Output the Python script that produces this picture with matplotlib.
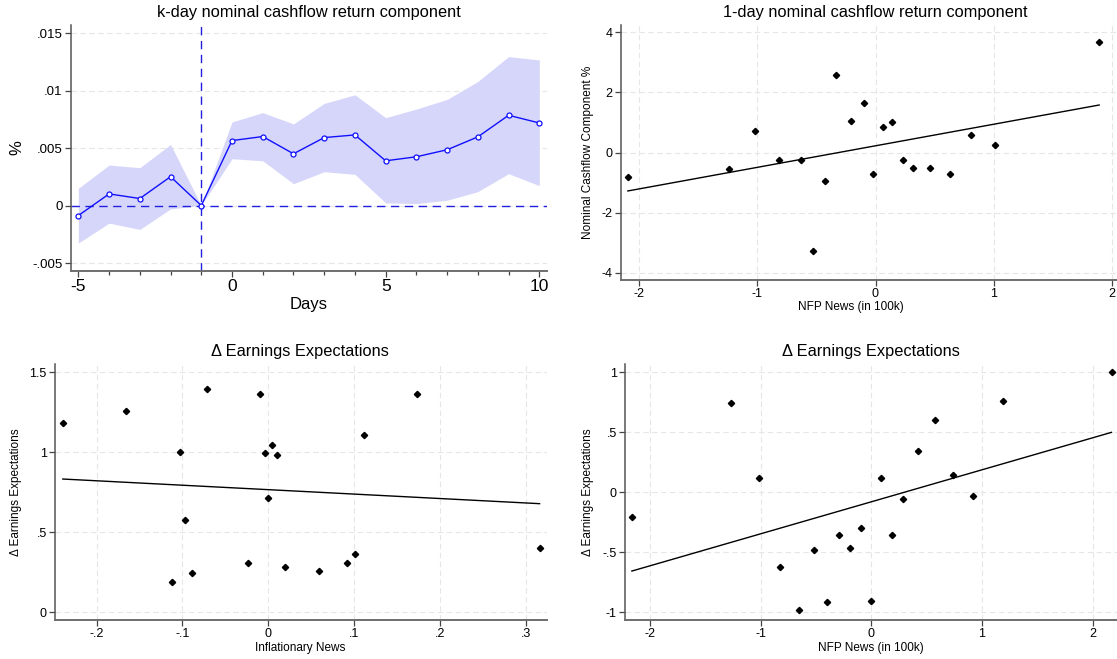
import numpy as np
import matplotlib
matplotlib.use("Agg")
import matplotlib.pyplot as plt
from matplotlib.ticker import FixedLocator, FuncFormatter, MultipleLocator

plt.rcParams['font.family'] = ['Liberation Sans', 'DejaVu Sans']

# ---------------- data ----------------
# Panel 1: k-day nominal cashflow return component
days = [-5, -4, -3, -2, -1, 0, 1, 2, 3, 4, 5, 6, 7, 8, 9, 10]
coef = [-0.00087, 0.00101, 0.00061, 0.00251, 0.0, 0.00565, 0.0060, 0.0045,
        0.00591, 0.00614, 0.00389, 0.00424, 0.00485, 0.00597, 0.00785, 0.00718]
ci_upper = [0.0015, 0.00352, 0.00329, 0.00531, 0.0, 0.00727, 0.00808, 0.0071,
            0.00888, 0.00963, 0.00764, 0.00839, 0.00923, 0.01079, 0.01295, 0.01266]
ci_lower = [-0.00326, -0.00153, -0.00208, -0.00029, 0.0, 0.00407, 0.00389, 0.0019,
            0.00294, 0.00271, 0.00023, 0.00017, 0.00046, 0.00121, 0.00277, 0.00173]

# Panel 2: 1-day nominal cashflow return component vs NFP news
nfp_news_1 = [-2.097, -1.243, -1.017, -0.814, -0.630, -0.528, -0.425, -0.338, -0.211, -0.100,
              -0.024, 0.060, 0.139, 0.229, 0.317, 0.465, 0.627, 0.811, 1.011, 1.894]
cashflow_1 = [-0.811, -0.556, 0.722, -0.244, -0.233, -3.267, -0.956, 2.578, 1.044, 1.644,
              -0.711, 0.844, 1.022, -0.256, -0.511, -0.522, -0.711, 0.589, 0.256, 3.678]
fit_1 = [0.7166, 0.223]   # slope, intercept of the fitted line

# Panel 3: Earnings expectations vs inflationary news
infl_news = [-0.2395, -0.1655, -0.1126, -0.1031, -0.0968, -0.0889, -0.0710, -0.0232, -0.0095, -0.0041,
             0.0001, 0.0047, 0.0101, 0.0196, 0.0592, 0.0920, 0.1008, 0.1116, 0.1736, 0.3162]
earn_infl = [1.185, 1.260, 0.1875, 1.000, 0.575, 0.246, 1.394, 0.310, 1.367, 0.994,
             0.7125, 1.044, 0.983, 0.281, 0.258, 0.308, 0.3625, 1.108, 1.365, 0.404]
fit_3 = [-0.2771, 0.7666]

# Panel 4: Earnings expectations vs NFP news
nfp_news_2 = [-2.164, -1.271, -1.011, -0.822, -0.652, -0.514, -0.401, -0.292, -0.189, -0.093,
              -0.003, 0.087, 0.183, 0.289, 0.421, 0.575, 0.742, 0.921, 1.191, 2.170]
earn_nfp = [-0.209, 0.748, 0.121, -0.620, -0.981, -0.478, -0.911, -0.354, -0.465, -0.295,
            -0.908, 0.121, -0.359, -0.057, 0.345, 0.606, 0.148, -0.032, 0.761, 1.006]
fit_4 = [0.2667, -0.0789]

# ---------------- layout ----------------
W, H = 1117, 659
fig = plt.figure(figsize=(W / 100, H / 100), dpi=100)
fig.patch.set_facecolor('white')


def px_axes(l, t, r, b):
    return fig.add_axes([l / W, 1 - b / H, (r - l) / W, (b - t) / H])


def stata_fmt(v, pos=None):
    s = ('%.4f' % v).rstrip('0').rstrip('.')
    if s in ('-0', ''):
        s = '0'
    s = s.replace('0.', '.', 1) if s.startswith('0.') else s
    s = s.replace('-0.', '-.', 1)
    return s


SPINE = '#6e6e6e'
GRID = '#e6e6e6'


def style(ax, xticks, yticks, xgrid=True, xsize=9, ysize=9):
    for s in ['top', 'right']:
        ax.spines[s].set_visible(False)
    ax.spines['left'].set_color('#555555')
    ax.spines['bottom'].set_color(SPINE)
    ax.spines['left'].set_linewidth(1.1)
    ax.spines['bottom'].set_linewidth(1.4)
    ax.xaxis.set_major_locator(FixedLocator(xticks))
    ax.yaxis.set_major_locator(FixedLocator(yticks))
    ax.xaxis.set_major_formatter(FuncFormatter(stata_fmt))
    ax.yaxis.set_major_formatter(FuncFormatter(stata_fmt))
    ax.tick_params(axis='x', length=4, width=0.9, color='#444444', labelsize=xsize, pad=2)
    ax.tick_params(axis='y', length=4, width=0.9, color='#444444', labelsize=ysize, pad=2)
    ax.grid(axis='y', color=GRID, linestyle=(0, (5, 3)), linewidth=0.8)
    if xgrid:
        ax.grid(axis='x', color=GRID, linestyle=(0, (5, 3)), linewidth=0.8)
    ax.set_axisbelow(True)


def scatter_fit(ax, x, y, fit):
    x = np.asarray(x)
    xx = np.array([x.min(), x.max()])
    ax.plot(xx, np.polyval(fit, xx), color='black', linewidth=1.0, zorder=2)
    ax.plot(x, y, linestyle='none', marker='D', markersize=3.2, color='black', zorder=3)


# ---- Panel 1 ----
ax1 = px_axes(71, 25, 546.7, 270.5)
ax1.fill_between(days, ci_lower, ci_upper, color='#d6d6fa', linewidth=0, zorder=1)
ax1.axhline(0, color='#2020e0', linestyle=(0, (6, 4)), linewidth=1.0, zorder=2)
ax1.axvline(-1, color='#2020e0', linestyle=(0, (6, 4)), linewidth=1.0, zorder=2)
ax1.plot(days, coef, color='#1010ff', linewidth=1.0, marker='o', markersize=3.6,
         markerfacecolor='white', markeredgecolor='#1010ff', markeredgewidth=0.9, zorder=3)
ax1.set_xlim(-5.24, 10.24)
ax1.set_ylim(-0.00565, 0.0157)
style(ax1, [-5, 0, 5, 10], [-0.005, 0, 0.005, 0.01, 0.015], xgrid=False, xsize=12.5, ysize=9.5)
ax1.xaxis.set_minor_locator(MultipleLocator(1))
ax1.tick_params(axis='x', which='minor', length=3, width=0.9, color='#444444')
fig.text(309 / W, 1 - 12.7 / H, 'k-day nominal cashflow return component', ha='center', va='center', fontsize=11.8)
fig.text(309 / W, 1 - 305 / H, 'Days', ha='center', va='center', fontsize=12)
fig.text(17 / W, 1 - 148 / H, '%', ha='center', va='center', fontsize=12, rotation=90)

# ---- Panel 2 ----
ax2 = px_axes(621, 25, 1130, 280)
scatter_fit(ax2, nfp_news_1, cashflow_1, fit_1)
ax2.set_xlim(-2.155, 2.155)
ax2.set_ylim(-4.243, 4.243)
style(ax2, [-2, -1, 0, 1, 2], [-4, -2, 0, 2, 4])
fig.text(875 / W, 1 - 12.7 / H, '1-day nominal cashflow return component', ha='center', va='center', fontsize=11.8)
fig.text(851 / W, 1 - 307.3 / H, 'NFP News (in 100k)', ha='center', va='center', fontsize=8.5)
fig.text(587.5 / W, 1 - 152.5 / H, 'Nominal Cashflow Component %', ha='center', va='center', fontsize=8.5, rotation=90)

# ---- Panel 3 ----
ax3 = px_axes(55, 364.3, 546.7, 620)
scatter_fit(ax3, infl_news, earn_infl, fit_3)
ax3.set_xlim(-0.2486, 0.3245)
ax3.set_ylim(-0.048, 1.55)
style(ax3, [-0.2, -0.1, 0, 0.1, 0.2, 0.3], [0, 0.5, 1, 1.5])
fig.text(300 / W, 1 - 351.7 / H, '\u0394 Earnings Expectations', ha='center', va='center', fontsize=11.8)
fig.text(300 / W, 1 - 648.3 / H, 'Inflationary News', ha='center', va='center', fontsize=8.5)
fig.text(16 / W, 1 - 492 / H, '\u0394 Earnings Expectations', ha='center', va='center', fontsize=8.5, rotation=90)

# ---- Panel 4 ----
ax4 = px_axes(625, 364.3, 1117.7, 620)
scatter_fit(ax4, nfp_news_2, earn_nfp, fit_4)
ax4.set_xlim(-2.226, 2.226)
ax4.set_ylim(-1.064, 1.067)
style(ax4, [-2, -1, 0, 1, 2], [-1, -0.5, 0, 0.5, 1])
fig.text(871 / W, 1 - 351.7 / H, '\u0394 Earnings Expectations', ha='center', va='center', fontsize=11.8)
fig.text(871 / W, 1 - 648.3 / H, 'NFP News (in 100k)', ha='center', va='center', fontsize=8.5)
fig.text(587.5 / W, 1 - 492 / H, '\u0394 Earnings Expectations', ha='center', va='center', fontsize=8.5, rotation=90)

fig.savefig('out.png', dpi=100)
